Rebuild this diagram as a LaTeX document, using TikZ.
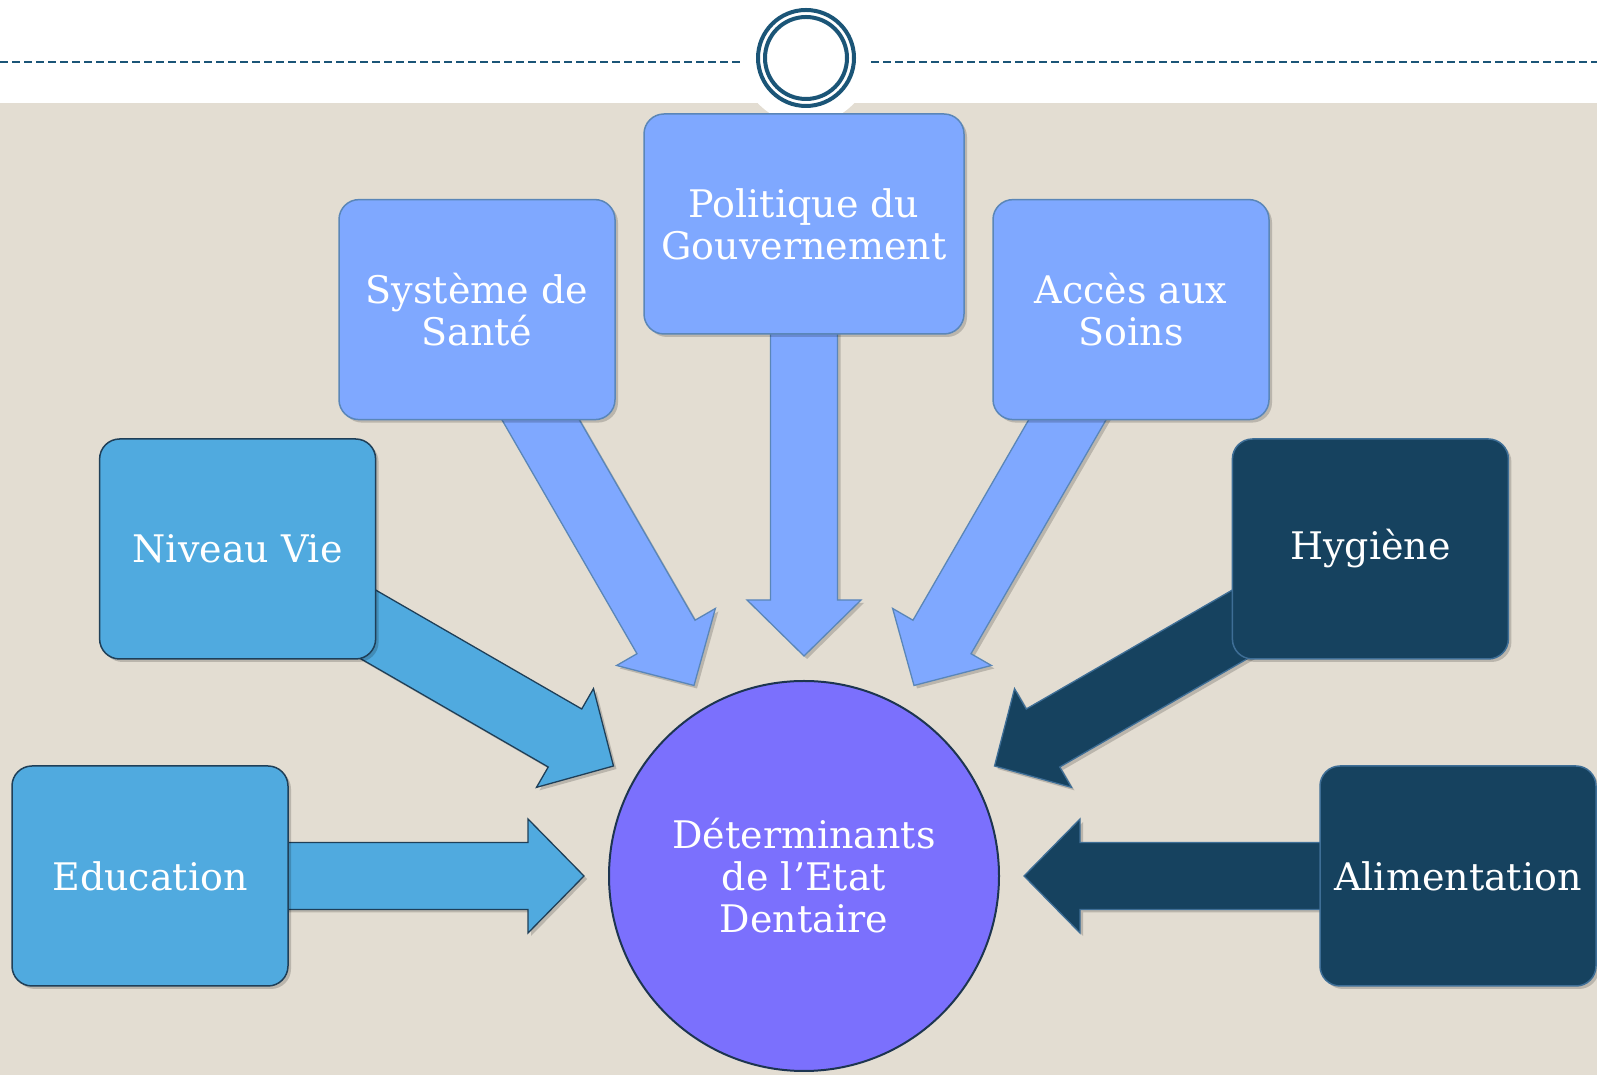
\documentclass[tikz,border=0pt]{standalone}
\usepackage{fontspec}
\setmainfont{DejaVu Serif}
\usepackage{tikz}
\usetikzlibrary{arrows.meta, positioning, calc, shadows}

\definecolor{paper}{HTML}{E3DDD2}
\definecolor{lightfill}{HTML}{7FA8FF}
\definecolor{lightline}{HTML}{5A86B8}
\definecolor{midfill}{HTML}{50AADF}
\definecolor{midline}{HTML}{1F3F58}
\definecolor{darkfill}{HTML}{16425F}
\definecolor{darkline}{HTML}{3E6E96}
\definecolor{corefill}{HTML}{7B70FD}
\definecolor{coreline}{HTML}{1D3550}
\definecolor{ringblue}{HTML}{1B5577}

\pgfdeclarelayer{back}
\pgfsetlayers{back,main}

% block arrow from a factor box to the central circle
\newcommand\feedarrow[2]{%
  \draw[#2] let \p1=($(#1.center)-(det.center)$), \n1={atan2(\y1,\x1)} in
    ($(det.center)+(\n1:600)+(\n1+90:33.5)$) -- ($(det.center)+(\n1:276)+(\n1+90:33.5)$)
    -- ($(det.center)+(\n1:276)+(\n1+90:57)$) -- ($(det.center)+(\n1:220)$)
    -- ($(det.center)+(\n1:276)+(\n1-90:57)$) -- ($(det.center)+(\n1:276)+(\n1-90:33.5)$)
    -- ($(det.center)+(\n1:600)+(\n1-90:33.5)$) -- cycle;}

\begin{document}
\begin{tikzpicture}[
		x=1pt, y=1pt,
		every node/.style={font=\fontsize{38}{42}\selectfont, text=white, align=center},
		shade/.style={drop shadow={shadow xshift=3pt, shadow yshift=-3pt, opacity=.18, fill=black}},
		factor/.style={rectangle, rounded corners=20pt, minimum width=276pt, minimum height=220pt, inner sep=0pt, line width=1.5pt, shade},
		light/.style={factor, fill=lightfill, draw=lightline},
		mid/.style={factor, fill=midfill, draw=midline},
		dark/.style={factor, fill=darkfill, draw=darkline},
		core/.style={circle, minimum size=390pt, inner sep=0pt, fill=corefill, draw=coreline, line width=2pt},
		lightarrow/.style={fill=lightfill, draw=lightline, line width=1.3pt, shade},
		midarrow/.style={fill=midfill, draw=midline, line width=1.3pt, shade},
		darkarrow/.style={fill=darkfill, draw=darkline, line width=1.3pt, shade}
		]
		\useasboundingbox (0,0) rectangle (1597,1075);
		
		% Nodes
		\node[core] (det) at (804,199) {Déterminants\\de l’Etat\\Dentaire};
		\node[mid] (edu) at ($(det.center)+(180:654)$) {Education};
		\node[mid] (niveau) at ($(det.center)+(150:654)$) {Niveau Vie};
		\node[light] (systeme) at ($(det.center)+(120:654)$) {Système de\\Santé};
		\node[light, minimum width=320pt] (politique) at ($(det.center)+(90:652)$) {Politique du\\Gouvernement};
		\node[light] (acces) at ($(det.center)+(60:654)$) {Accès aux\\Soins};
		\node[dark] (hygiene) at ($(det.center)+(30:654)$) {Hygiène};
		\node[dark] (alim) at ($(det.center)+(0:654)$) {Alimentation};
		
		\begin{pgfonlayer}{back}
		% Background and header
		\fill[white] (0,0) rectangle (1597,1075);
		\fill[paper] (0,0) rectangle (1597,972);
		\fill[white] (806,1017) circle (66);
		\draw[ringblue, line width=1.3pt, dash pattern=on 8pt off 4pt] (0,1013) -- (743,1013);
		\draw[ringblue, line width=1.3pt, dash pattern=on 8pt off 4pt] (871,1013) -- (1597,1013);
		\draw[ringblue, line width=4pt] (806,1017) circle (48);
		\draw[ringblue, line width=4pt] (806,1017) circle (41);
		
		% Connection arrows
		\feedarrow{edu}{midarrow}
		\feedarrow{niveau}{midarrow}
		\feedarrow{systeme}{lightarrow}
		\feedarrow{politique}{lightarrow}
		\feedarrow{acces}{lightarrow}
		\feedarrow{hygiene}{darkarrow}
		\feedarrow{alim}{darkarrow}
		\end{pgfonlayer}
		
	\end{tikzpicture}
\end{document}
